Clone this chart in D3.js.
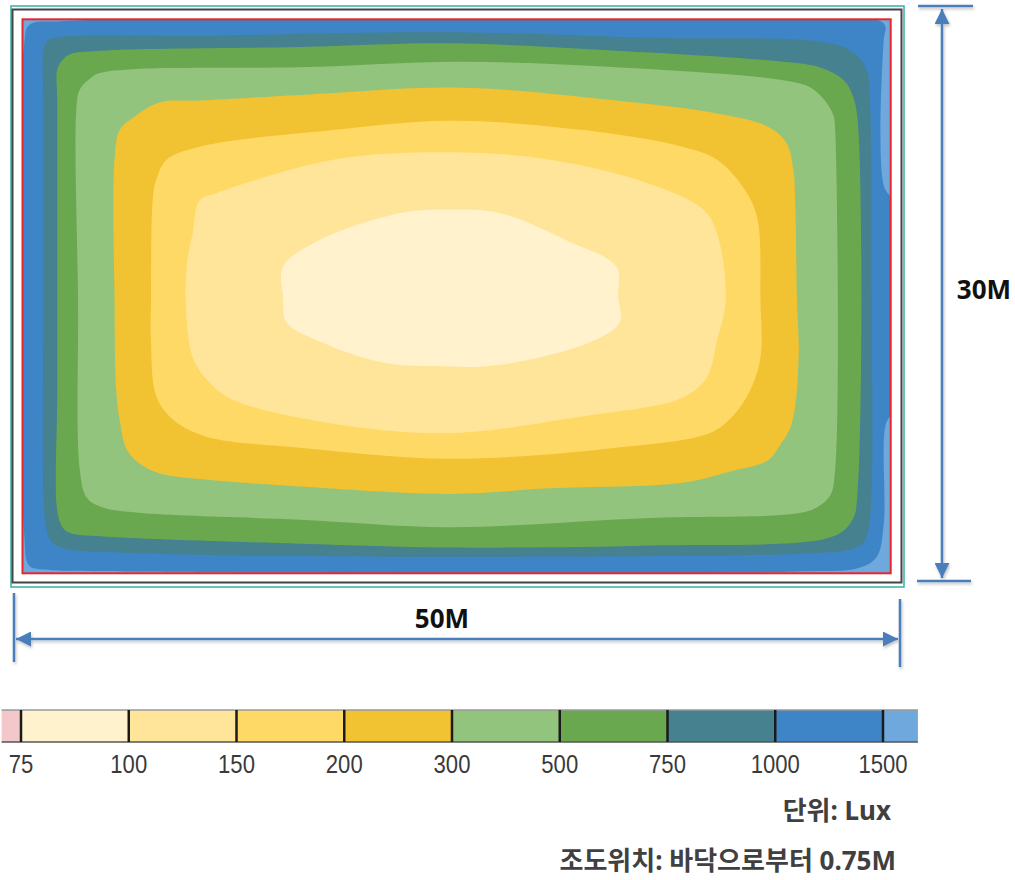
<!DOCTYPE html>
<html>
<head>
<meta charset="utf-8">
<script src="https://cdn.jsdelivr.net/npm/d3@7"></script>
<style>
  body { margin: 0; background: #ffffff; }
</style>
</head>
<body>
<div id="chart"></div>
<script>
  // Room size in metres
  var roomWidth = 50;
  var roomDepth = 30;

  // Legend: band limits (lux) and colours, low to high
  var legendTicks = ['75', '100', '150', '200', '300', '500', '750', '1000', '1500'];
  var legendColors = ['#f4c7cb', '#fff2cc', '#ffe599', '#ffd966', '#f1c232',
                      '#93c47d', '#6aa84f', '#45818e', '#3d85c6', '#6fa8dc'];

  // Outer outline of each band, [x m, y m from top wall]
  var contour1000 = [[0.1,1.3],[0.4,0.3],[2.2,0.1],[49.4,0.1],[49.7,0.4],[49.6,1.1],[49.6,9.0],[50.2,10.0],
    [50.2,21.0],[49.7,22.0],[49.6,27.3],[49.2,29.1],[48.2,29.7],[44.6,29.9],[6.0,29.9],[1.3,29.8],[0.4,29.6],[0.1,27.9]];
  var contour750 = [[1.2,1.7],[1.4,1.2],[1.9,1.0],[10.2,0.9],[24.6,0.7],[36.1,1.0],[45.8,1.2],[47.7,1.7],
    [48.6,2.7],[48.8,4.4],[48.9,15.2],[48.9,25.5],[48.7,27.7],[48.4,28.4],[47.7,28.7],[45.8,28.9],[24.6,29.1],
    [6.4,28.9],[2.2,28.6],[1.6,28.2],[1.3,27.1],[1.2,25.5],[1.2,15.2],[1.2,4.4]];
  var contour500 = [[2.0,2.7],[2.3,2.2],[2.7,1.9],[4.5,1.7],[16.0,1.5],[24.6,1.3],[36.1,1.8],[43.8,2.3],
    [45.9,2.6],[47.3,3.3],[47.8,4.1],[48.1,5.5],[48.1,25.5],[47.8,27.1],[46.7,28.0],[36.1,28.5],[24.6,28.6],
    [16.0,28.4],[4.5,28.0],[2.7,27.8],[2.3,27.5],[2.0,26.6],[2.0,20.1],[2.0,4.4]];
  var contour300 = [[3.1,4.9],[3.3,3.8],[3.9,3.2],[4.5,2.9],[6.4,2.7],[16.0,2.6],[25.2,2.3],[34.2,2.6],
    [43.8,3.3],[45.4,3.7],[46.2,4.4],[46.7,5.2],[46.8,6.0],[46.8,24.4],[46.5,25.8],[45.6,26.5],[44.2,26.8],
    [36.1,27.0],[24.6,27.5],[16.0,27.1],[6.4,26.7],[4.5,26.4],[3.7,25.9],[3.3,24.4],[3.2,15.2]];
  var contour200 = [[5.3,7.6],[5.6,6.0],[6.4,5.3],[7.9,4.5],[10.2,4.4],[16.0,4.1],[25.2,3.7],[34.2,4.4],
    [40.0,5.1],[42.9,5.8],[44.0,6.7],[44.4,8.2],[44.5,9.8],[44.6,15.2],[44.7,18.3],[44.3,21.9],[43.6,23.1],
    [42.9,23.9],[40.7,24.5],[38.0,25.1],[30.4,25.4],[24.6,25.7],[16.0,25.3],[10.2,24.9],[7.9,24.6],[6.8,24.1],
    [6.0,23.3],[5.6,21.7],[5.4,20.1],[5.3,15.2]];
  var contour150 = [[7.7,8.7],[8.3,7.6],[10.2,6.9],[17.9,6.0],[24.6,5.5],[32.3,6.0],[38.0,6.9],[40.0,7.6],
    [41.5,9.1],[42.3,10.7],[42.5,15.2],[42.5,18.3],[41.9,20.1],[40.9,21.5],[39.6,22.4],[34.2,23.2],[24.6,23.8],
    [16.0,23.2],[10.6,22.6],[8.7,21.7],[7.7,20.4],[7.4,17.4],[7.4,15.2],[7.5,9.8]];
  var contour100 = [[9.8,11.6],[10.2,9.8],[11.2,9.4],[17.9,7.6],[24.6,7.2],[30.4,7.6],[36.1,8.9],[39.2,10.3],
    [40.0,11.6],[40.5,15.2],[40.0,17.4],[39.4,19.4],[38.0,20.5],[32.3,21.5],[24.6,22.4],[17.9,21.9],[12.1,20.6],
    [10.8,19.7],[9.8,18.3],[9.4,15.2],[9.5,13.0]];
  var contour75 = [[15.0,13.4],[17.0,12.0],[21.7,10.5],[24.6,10.3],[27.5,10.5],[31.4,12.0],[34.2,13.4],
    [34.3,15.0],[34.4,16.4],[32.9,17.4],[29.4,18.4],[26.5,18.8],[24.6,18.8],[20.8,18.6],[17.0,17.4],[15.2,16.4],[15.0,15.0]];

  var bands = [
    {id: '1000', color: legendColors[8], points: contour1000},
    {id: '750', color: legendColors[7], points: contour750},
    {id: '500', color: legendColors[6], points: contour500},
    {id: '300', color: legendColors[5], points: contour300},
    {id: '200', color: legendColors[4], points: contour200},
    {id: '150', color: legendColors[3], points: contour150},
    {id: '100', color: legendColors[2], points: contour100},
    {id: '75', color: legendColors[1], points: contour75}
  ];

  // Layout
  var outerWidth = 1015;
  var outerHeight = 880;
  var plot = {left: 22.5, top: 19.3, right: 890.7, bottom: 573.3};
  var dimColor = '#4a7ebb';
  var korFont = '"Noto Sans", "Noto Sans CJK KR", sans-serif';

  var svg = d3.select('#chart').append('svg')
    .attr('width', outerWidth)
    .attr('height', outerHeight);

  var defs = svg.append('defs');
  defs.append('clipPath').attr('id', 'room')
    .append('rect')
      .attr('x', plot.left).attr('y', plot.top)
      .attr('width', plot.right - plot.left)
      .attr('height', plot.bottom - plot.top);

  defs.append('filter').attr('id', 'shadow')
    .attr('x', '-10%').attr('y', '-10%').attr('width', '120%').attr('height', '120%')
    .append('feDropShadow')
      .attr('dx', 1).attr('dy', 2).attr('stdDeviation', 1.5)
      .attr('flood-color', '#000').attr('flood-opacity', 0.25);

  ['start', 'end'].forEach(function(k) {
    defs.append('marker')
      .attr('id', 'arrow-' + k)
      .attr('viewBox', '0 0 10 10')
      .attr('refX', 10).attr('refY', 5)
      .attr('markerWidth', 6).attr('markerHeight', 6)
      .attr('markerUnits', 'strokeWidth')
      .attr('orient', k === 'start' ? 'auto-start-reverse' : 'auto')
      .append('path')
        .attr('d', 'M0,0 L10,5 L0,10 Z')
        .attr('fill', dimColor);
  });

  // Scales: metres to pixels
  var x = d3.scaleLinear().domain([0, roomWidth]).range([plot.left, plot.right]);
  var y = d3.scaleLinear().domain([0, roomDepth]).range([plot.top, plot.bottom]);

  // Room frame
  svg.append('rect')
    .attr('x', 11).attr('y', 6).attr('width', 893).attr('height', 581)
    .attr('fill', 'none').attr('stroke', '#37b0a6').attr('stroke-width', 1.5);
  svg.append('rect')
    .attr('x', 12.5).attr('y', 9.5).attr('width', 889).attr('height', 573)
    .attr('fill', '#ffffff').attr('stroke', '#444444').attr('stroke-width', 2);

  // Base of the plan is the highest band
  svg.append('rect')
    .attr('x', x(0)).attr('y', y(0))
    .attr('width', x(roomWidth) - x(0)).attr('height', y(roomDepth) - y(0))
    .attr('fill', legendColors[9]);

  var outline = d3.line()
    .curve(d3.curveCatmullRomClosed.alpha(0.5))
    .x(function(d) { return x(d[0]); })
    .y(function(d) { return y(d[1]); });

  svg.append('g')
    .attr('clip-path', 'url(#room)')
    .selectAll('path')
    .data(bands)
    .enter().append('path')
      .attr('class', function(d) { return 'band band-' + d.id; })
      .attr('d', function(d) { return outline(d.points); })
      .attr('fill', function(d) { return d.color; });

  // Red inner border
  svg.append('rect')
    .attr('x', x(0)).attr('y', y(0))
    .attr('width', x(roomWidth) - x(0)).attr('height', y(roomDepth) - y(0))
    .attr('fill', 'none').attr('stroke', '#e8262b').attr('stroke-width', 2);

  // Dimension lines
  var dims = svg.append('g')
    .attr('stroke', dimColor)
    .attr('stroke-width', 2.5)
    .attr('filter', 'url(#shadow)');

  dims.append('line').attr('x1', 918).attr('x2', 973).attr('y1', 6).attr('y2', 6);
  dims.append('line').attr('x1', 917).attr('x2', 971).attr('y1', 581).attr('y2', 581);
  dims.append('line')
    .attr('x1', 942).attr('x2', 942).attr('y1', 9).attr('y2', 578)
    .attr('marker-start', 'url(#arrow-start)')
    .attr('marker-end', 'url(#arrow-end)');

  dims.append('line').attr('x1', 14).attr('x2', 14).attr('y1', 593).attr('y2', 662);
  dims.append('line').attr('x1', 900).attr('x2', 900).attr('y1', 599).attr('y2', 667);
  dims.append('line')
    .attr('x1', 16).attr('x2', 898).attr('y1', 639).attr('y2', 639)
    .attr('marker-start', 'url(#arrow-start)')
    .attr('marker-end', 'url(#arrow-end)');

  svg.append('text')
    .attr('x', 984).attr('y', 299)
    .attr('text-anchor', 'middle')
    .style('font', 'bold 26px ' + korFont)
    .style('fill', '#111111')
    .text(roomDepth + 'M');

  svg.append('text')
    .attr('x', 442).attr('y', 628)
    .attr('text-anchor', 'middle')
    .style('font', 'bold 26px ' + korFont)
    .style('fill', '#111111')
    .text(roomWidth + 'M');

  // Legend bar
  var stub = 0.18;
  var legendTop = 710;
  var legendHeight = 32;
  var lx = d3.scaleLinear().domain([0, legendTicks.length - 1]).range([21, 883]);
  var legendEnd = legendTicks.length - 1 + stub * 1.8;

  var legend = svg.append('g').attr('class', 'legend');

  legend.selectAll('rect.swatch')
    .data(legendColors)
    .enter().append('rect')
      .attr('class', 'swatch')
      .attr('x', function(d, i) { return lx(Math.max(i - 1, -stub)); })
      .attr('y', legendTop)
      .attr('width', function(d, i) {
        return lx(Math.min(i, legendEnd)) - lx(Math.max(i - 1, -stub));
      })
      .attr('height', legendHeight)
      .attr('fill', function(d) { return d; });

  legend.append('line')
    .attr('x1', lx(-stub)).attr('x2', lx(legendEnd))
    .attr('y1', legendTop).attr('y2', legendTop)
    .attr('stroke', '#9a9a9a').attr('stroke-width', 1.5);
  legend.append('line')
    .attr('x1', lx(-stub)).attr('x2', lx(legendEnd))
    .attr('y1', legendTop + legendHeight).attr('y2', legendTop + legendHeight)
    .attr('stroke', '#555555').attr('stroke-width', 1.5);

  legend.selectAll('line.divider')
    .data(legendTicks)
    .enter().append('line')
      .attr('class', 'divider')
      .attr('x1', function(d, i) { return lx(i); })
      .attr('x2', function(d, i) { return lx(i); })
      .attr('y1', legendTop).attr('y2', legendTop + legendHeight)
      .attr('stroke', '#1a1a1a').attr('stroke-width', 2.5);

  legend.selectAll('g.tick')
    .data(legendTicks)
    .enter().append('g')
      .attr('class', 'tick')
      .attr('transform', function(d, i) { return 'translate(' + lx(i) + ',773) scale(0.85,1)'; })
    .append('text')
      .attr('text-anchor', 'middle')
      .style('font', '26px "Liberation Sans", Arial, sans-serif')
      .style('fill', '#3a3a3a')
      .text(function(d) { return d; });

  // Notes
  svg.append('text')
    .attr('x', 891).attr('y', 820)
    .attr('text-anchor', 'end')
    .style('font', 'bold 26px ' + korFont)
    .style('fill', '#404040')
    .text('단위: Lux');

  svg.append('text')
    .attr('x', 896).attr('y', 870)
    .attr('text-anchor', 'end')
    .style('font', 'bold 26px ' + korFont)
    .style('fill', '#404040')
    .text('조도위치: 바닥으로부터 0.75M');
</script>
</body>
</html>
